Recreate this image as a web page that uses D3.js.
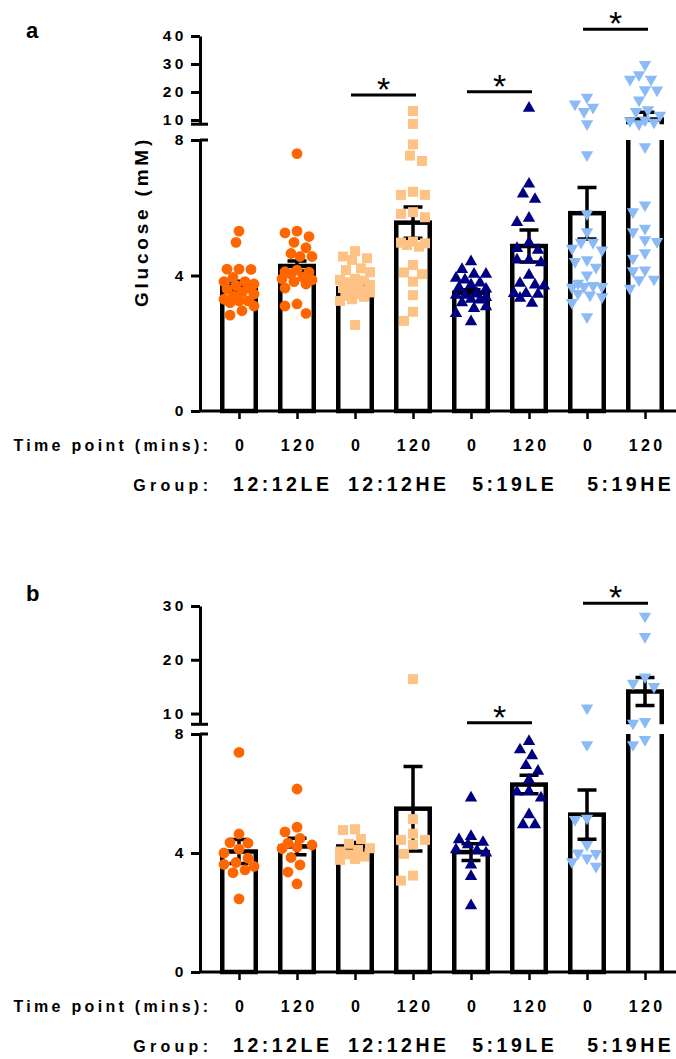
<!DOCTYPE html>
<html>
<head>
<meta charset="utf-8">
<script src="https://cdn.jsdelivr.net/npm/d3@7"></script>
<style>
body { margin: 0; background: #fff; }
svg text { font-family: "Liberation Sans", Arial, sans-serif; font-weight: bold; fill: #000; }
</style>
</head>
<body>
<svg id="chart" width="676" height="1059"></svg>
<script>
// categories
var timePoints = ["0", "120", "0", "120", "0", "120", "0", "120"];
var groups = ["12:12LE", "12:12HE", "5:19LE", "5:19HE"];
var groupColors = ["#ff6600", "#ffc285", "#000080", "#8bbaf6"];
var groupShapes = ["circle", "square", "up", "down"];

// panel a
var meansA = [3.70, 4.28, 3.62, 5.56, 3.49, 4.87, 5.84, 10.2];
var semsA = [0.13, 0.15, 0.10, 0.46, 0.09, 0.47, 0.76, 2.6];
var upperTicksA = [10, 20, 30, 40];
var sigA = [[2, 3, 18.9], [4, 5, 20.1], [6, 7, 42.4]];
var dotsA = [
  [5.31, 4.98, 4.19, 4.18, 4.19, 3.94, 3.82, 3.82, 3.75, 3.70, 3.60, 3.63, 3.50, 3.45, 3.40, 3.30, 3.25, 3.25, 3.10, 3.20, 2.96, 2.83],
  [7.60, 5.31, 5.26, 5.15, 4.98, 4.82, 4.65, 4.56, 4.56, 4.16, 4.11, 4.10, 4.05, 3.95, 3.90, 3.87, 3.82, 3.75, 3.63, 3.16, 3.10, 2.88],
  [4.72, 4.56, 4.51, 4.46, 4.21, 4.16, 4.10, 3.90, 3.87, 3.85, 3.80, 3.72, 3.68, 3.63, 3.60, 3.55, 3.50, 3.45, 3.40, 3.37, 3.30, 3.25, 2.54],
  [13.2, 8.6, 7.87, 7.54, 7.38, 6.47, 6.38, 6.38, 5.87, 5.82, 5.72, 5.00, 4.97, 4.95, 4.90, 4.85, 4.31, 4.09, 4.04, 3.82, 3.42, 2.93, 2.66],
  [4.41, 4.18, 4.04, 4.04, 3.92, 3.87, 3.78, 3.72, 3.65, 3.60, 3.47, 3.42, 3.42, 3.35, 3.30, 3.28, 3.20, 3.08, 3.03, 2.88, 2.64],
  [14.2, 6.70, 6.41, 6.25, 5.69, 5.57, 4.97, 4.80, 4.75, 4.46, 4.46, 4.38, 4.01, 3.77, 3.72, 3.69, 3.47, 3.47, 3.45, 3.33, 3.18],
  [18.1, 15.7, 14.5, 13.0, 8.6, 7.56, 5.82, 5.29, 4.98, 4.98, 4.80, 4.75, 4.46, 4.41, 4.24, 4.01, 3.77, 3.70, 3.67, 3.65, 3.67, 3.47, 3.42, 3.37, 3.20, 2.78],
  [29.8, 26.1, 24.5, 24.5, 20.7, 20.8, 17.1, 13.6, 13.0, 11.7, 10.0, 9.7, 9.2, 8.6, 7.8, 6.08, 5.88, 5.39, 5.29, 5.05, 5.00, 4.67, 4.51, 4.16, 4.14, 3.89, 3.87, 3.62]
];

// panel b
var meansB = [4.05, 4.22, 4.22, 5.49, 4.03, 6.30, 5.29, 14.1];
var semsB = [0.40, 0.28, 0.13, 1.42, 0.28, 0.31, 0.83, 2.6];
var upperTicksB = [10, 20, 30];
var sigB = [[4, 5, 8.3], [6, 7, 30.5]];
var dotsB = [
  [7.38, 4.64, 4.35, 4.33, 4.13, 4.00, 3.83, 3.68, 3.62, 3.55, 3.43, 3.34, 2.46],
  [6.15, 4.87, 4.71, 4.49, 4.33, 4.27, 4.20, 4.15, 3.85, 3.60, 3.36, 2.96],
  [4.80, 4.77, 4.47, 4.31, 4.16, 4.10, 4.05, 3.95, 3.88, 3.80, 3.77],
  [16.4, 5.14, 4.65, 4.44, 4.44, 4.28, 3.97, 3.24, 3.07],
  [5.85, 4.56, 4.45, 4.36, 4.28, 4.11, 4.08, 4.00, 3.60, 3.21, 2.23],
  [7.75, 7.47, 7.27, 6.94, 6.75, 6.46, 6.07, 6.05, 5.85, 5.29, 4.95, 4.95],
  [11.0, 7.64, 5.17, 5.12, 4.28, 4.00, 3.98, 3.83, 3.70, 3.55],
  [28.1, 24.3, 16.8, 15.6, 15.0, 8.5, 8.2, 7.81, 7.64]
];

var svg = d3.select("#chart");
var x = d3.scalePoint().domain(d3.range(8)).range([239, 645]);
var axisX = 200, barHalf = 16.75;

var panels = [
  { label: "a", labelY: 38, base: 411, lowTop: 140, upBottom: 124.2, upTop: 36, upMin: 8.5, upMax: 40,
    upTicks: upperTicksA, means: meansA, sems: semsA, dots: dotsA, sig: sigA, title: true },
  { label: "b", labelY: 601, base: 972, lowTop: 734, upBottom: 724.3, upTop: 606, upMin: 8, upMax: 30,
    upTicks: upperTicksB, means: meansB, sems: semsB, dots: dotsB, sig: sigB, title: false }
];

function symbolFor(shape) {
  if (shape == "circle") return d3.symbol().type(d3.symbolCircle).size(92)();
  if (shape == "square") return d3.symbol().type(d3.symbolSquare).size(100)();
  return d3.symbol().type(d3.symbolTriangle).size(66)();
}

// simple beeswarm so dots spread sideways like the prism scatter
function swarm(vals, yFn) {
  var placed = [];
  vals.slice().sort(function(a, b) { return b - a; }).forEach(function(v) {
    var y = yFn(v), best = 0, bestD = -1;
    var cands = [0];
    for (var k = 3; k <= 15; k += 3) { cands.push(-k); cands.push(k); }
    for (var c = 0; c < cands.length; c++) {
      var dmin = 99;
      placed.forEach(function(p) { dmin = Math.min(dmin, Math.hypot(p.dx - cands[c], p.y - y)); });
      if (dmin >= 11.5) { best = cands[c]; bestD = 99; break; }
      if (dmin > bestD) { bestD = dmin; best = cands[c]; }
    }
    placed.push({ v: v, y: y, dx: best });
  });
  return placed;
}

function drawPanel(p) {
  var g = svg.append("g");
  var yLow = d3.scaleLinear().domain([0, 8]).range([p.base, p.lowTop]);
  var yUp = d3.scaleLinear().domain([p.upMin, p.upMax]).range([p.upBottom, p.upTop]);
  var yv = function(v) { return v <= 8 ? yLow(v) : yUp(v); };

  // bars
  p.means.forEach(function(m, i) {
    var l = x(i) - barHalf, r = x(i) + barHalf;
    if (m <= 8) {
      g.append("rect").attr("x", l).attr("y", yLow(m)).attr("width", r - l).attr("height", yLow(0) - yLow(m))
        .attr("fill", "#fff").attr("stroke", "#000").attr("stroke-width", 4.5);
    } else {
      g.append("rect").attr("x", l).attr("y", yLow(8)).attr("width", r - l).attr("height", yLow(0) - yLow(8)).attr("fill", "#fff");
      g.append("rect").attr("x", l).attr("y", yUp(m)).attr("width", r - l).attr("height", yUp(p.upMin) - yUp(m)).attr("fill", "#fff");
      var lo = d3.path();
      lo.moveTo(l, yLow(8)); lo.lineTo(l, yLow(0));
      lo.moveTo(r, yLow(8)); lo.lineTo(r, yLow(0));
      g.append("path").attr("d", lo.toString()).attr("fill", "none").attr("stroke", "#000").attr("stroke-width", 4.5);
      var up = d3.path();
      up.moveTo(l, yUp(p.upMin)); up.lineTo(l, yUp(m)); up.lineTo(r, yUp(m)); up.lineTo(r, yUp(p.upMin));
      g.append("path").attr("d", up.toString()).attr("fill", "none").attr("stroke", "#000").attr("stroke-width", 4.5);
    }
  });

  // error bars (kept inside the segment holding the mean)
  p.means.forEach(function(m, i) {
    var s = p.sems[i], cx = x(i);
    var ys = m <= 8 ? yLow : yUp;
    var lowLim = m <= 8 ? 0 : p.upMin;
    var hi = m + s, lo = Math.max(m - s, lowLim);
    var e = d3.path();
    e.moveTo(cx, ys(lo)); e.lineTo(cx, ys(hi));
    e.moveTo(cx - 9.5, ys(hi)); e.lineTo(cx + 9.5, ys(hi));
    if (m - s > lowLim) { e.moveTo(cx - 9.5, ys(lo)); e.lineTo(cx + 9.5, ys(lo)); }
    g.append("path").attr("d", e.toString()).attr("fill", "none").attr("stroke", "#000").attr("stroke-width", 3.5);
  });

  // dots
  p.dots.forEach(function(vals, i) {
    var gi = Math.floor(i / 2);
    var shape = groupShapes[gi];
    g.selectAll(null).data(swarm(vals, yv)).enter().append("path")
      .attr("d", symbolFor(shape))
      .attr("transform", function(d) {
        return "translate(" + (x(i) + d.dx) + "," + d.y + ")" + (shape == "down" ? " rotate(180)" : "");
      })
      .attr("fill", groupColors[gi]);
  });

  // x axis
  g.append("line").attr("x1", axisX).attr("x2", 676).attr("y1", p.base).attr("y2", p.base)
    .attr("stroke", "#000").attr("stroke-width", 3);
  var xa = g.append("g").attr("transform", "translate(0," + p.base + ")")
    .call(d3.axisBottom(x).tickSize(8).tickSizeOuter(0).tickFormat(function(i) { return timePoints[i]; }));
  xa.select(".domain").remove();
  xa.selectAll(".tick line").attr("stroke-width", 2.5);
  xa.selectAll(".tick text").attr("y", 40).attr("dy", null).attr("dx", 1.6)
    .style("font-size", "16px").style("letter-spacing", "3.3px");

  // y axes, broken
  var yl = g.append("g").attr("transform", "translate(" + axisX + ",0)")
    .call(d3.axisLeft(yLow).tickValues([0, 4, 8]).tickSize(9).tickPadding(4.5).tickSizeOuter(0));
  var yu = g.append("g").attr("transform", "translate(" + axisX + ",0)")
    .call(d3.axisLeft(yUp).tickValues(p.upTicks).tickSize(9).tickPadding(4.5).tickSizeOuter(0));
  [yl, yu].forEach(function(a) {
    a.select(".domain").attr("stroke-width", 3);
    a.selectAll(".tick line").attr("stroke-width", 3);
    a.selectAll(".tick text").style("font-size", "15.5px").style("letter-spacing", "3.2px");
  });
  g.append("line").attr("x1", axisX).attr("x2", axisX + 8).attr("y1", yLow(8)).attr("y2", yLow(8))
    .attr("stroke", "#000").attr("stroke-width", 3);
  g.append("line").attr("x1", axisX - 9).attr("x2", axisX + 8).attr("y1", yUp(p.upMin)).attr("y2", yUp(p.upMin))
    .attr("stroke", "#000").attr("stroke-width", 3);

  // significance
  p.sig.forEach(function(s) {
    var x1 = x(s[0]) - 4, x2 = x(s[1]) + 3, y = yUp(s[2]);
    g.append("line").attr("x1", x1).attr("x2", x2).attr("y1", y).attr("y2", y)
      .attr("stroke", "#000").attr("stroke-width", 3);
    g.append("text").attr("x", (x1 + x2) / 2).attr("y", y + 6).attr("text-anchor", "middle")
      .style("font-size", "34px").style("font-weight", "normal").text("*");
  });

  // row labels
  g.append("text").attr("x", 208 + 3.3).attr("y", p.base + 40).attr("text-anchor", "end")
    .style("font-size", "16px").style("letter-spacing", "3.3px").text("Time point (mins):");
  g.append("text").attr("x", 208 + 4.3).attr("y", p.base + 80).attr("text-anchor", "end")
    .style("font-size", "16px").style("letter-spacing", "4.3px").text("Group:");
  groups.forEach(function(name, j) {
    g.append("text").attr("x", (x(2 * j) + x(2 * j + 1)) / 2 + 13 + 1.75).attr("y", p.base + 80)
      .attr("text-anchor", "middle").style("font-size", "19.5px").style("letter-spacing", "3.5px").text(name);
  });

  g.append("text").attr("x", 26).attr("y", p.labelY).style("font-size", "22px").text(p.label);

  if (p.title) {
    g.append("text").attr("transform", "translate(148," + ((p.upTop + p.base) / 2) + ") rotate(-90)")
      .attr("text-anchor", "middle").attr("dx", 2)
      .style("font-size", "19px").style("letter-spacing", "3.8px").text("Glucose (mM)");
  }
}

panels.forEach(drawPanel);
</script>
</body>
</html>
